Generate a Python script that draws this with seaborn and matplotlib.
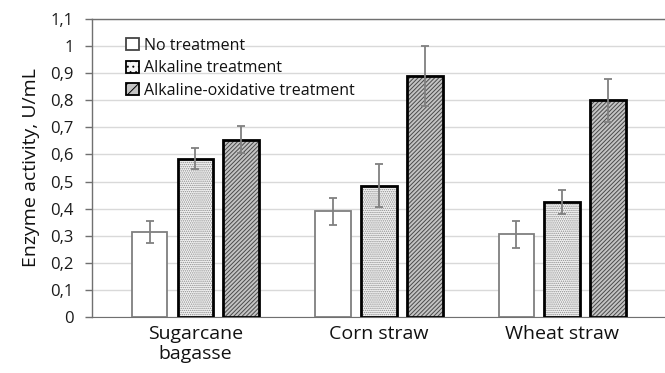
import matplotlib
matplotlib.use("Agg")
import matplotlib.pyplot as plt
from matplotlib.ticker import FuncFormatter
import numpy as np
import pandas as pd
import seaborn as sns

substrates = ["Sugarcane\nbagasse", "Corn straw", "Wheat straw"]
treatments = ["No treatment", "Alkaline treatment", "Alkaline-oxidative treatment"]
no_treat = [0.315, 0.39, 0.305]
alkaline = [0.585, 0.485, 0.425]
alk_ox = [0.655, 0.89, 0.80]
no_treat_err = [0.04, 0.05, 0.05]
alkaline_err = [0.04, 0.08, 0.045]
alk_ox_err = [0.05, 0.11, 0.08]

df = pd.DataFrame({
    "substrate": substrates * 3,
    "treatment": np.repeat(treatments, 3),
    "activity": no_treat + alkaline + alk_ox,
})
errs = [no_treat_err, alkaline_err, alk_ox_err]

sns.set_style("white")
plt.rcParams["font.family"] = ["Open Sans", "DejaVu Sans"]
plt.rcParams["hatch.linewidth"] = 0.7

fig = plt.figure(figsize=(6.65, 3.73), dpi=100)
ax = fig.add_axes([0.138, 0.150, 0.862, 0.799])

sns.barplot(data=df, x="substrate", y="activity", hue="treatment",
            order=substrates, hue_order=treatments, width=0.75, gap=0.22,
            errorbar=None, ax=ax, zorder=3)

faces = ["white", "#f4f4f4", "#c4c4c4"]
edges = ["#7f7f7f", "black", "black"]
hatches = [None, "........", "////////"]
hatch_cols = ["#7f7f7f", "#8c8c8c", "#4a4a4a"]
lws = [1.3, 2.0, 2.0]
bar_conts = list(ax.containers)
for i, cont in enumerate(bar_conts):
    for j, p in enumerate(cont.patches):
        p.set_facecolor(faces[i])
        p.set_edgecolor(edges[i])
        p.set_linewidth(lws[i])
        if hatches[i]:
            p.set_hatch(hatches[i])
            p._hatch_color = matplotlib.colors.to_rgba(hatch_cols[i])
        cx = p.get_x() + p.get_width() / 2
        ax.errorbar(cx, p.get_height(), yerr=errs[i][j], color="#808080",
                    capsize=3, elinewidth=1.3, capthick=1.3, zorder=4)

ax.set_ylim(0, 1.1)
ax.set_xlim(-0.565, 2.56)
ax.set_yticks(np.arange(0, 1.11, 0.1))
ax.yaxis.set_major_formatter(FuncFormatter(
    lambda v, _: "0" if abs(v) < 1e-9 else ("1" if abs(v - 1) < 1e-9 else f"{v:.1f}".replace(".", ","))))
ax.grid(axis="y", color="#d9d9d9", linewidth=1.0, zorder=0)
ax.set_axisbelow(True)
ax.tick_params(axis="y", left=True, length=5, width=1, color="#707070",
               labelsize=12, labelcolor="#1a1a1a", pad=8)
ax.tick_params(axis="x", bottom=False, labelsize=14, labelcolor="#111111", pad=2)
for s in ["left", "top"]:
    ax.spines[s].set_color("#707070")
    ax.spines[s].set_linewidth(1.0)
ax.spines["bottom"].set_color("#707070")
ax.spines["right"].set_visible(False)
ax.set_xlabel("")
ax.set_ylabel("Enzyme activity, U/mL", fontsize=14, color="#111111", labelpad=7)

leg = ax.legend(loc="upper left", bbox_to_anchor=(0.035, 0.985), frameon=False,
                fontsize=11.5, handlelength=0.8, handleheight=0.8,
                handletextpad=0.3, labelspacing=0.4)
for h, i in zip(leg.legend_handles, range(3)):
    h.set_facecolor(faces[i])
    h.set_edgecolor("black" if i else "#444444")
    h.set_linewidth(1.3)
    if hatches[i]:
        h.set_hatch(hatches[i][:3])
for t in leg.get_texts():
    t.set_color("#111111")

fig.savefig("out.png", dpi=100)
